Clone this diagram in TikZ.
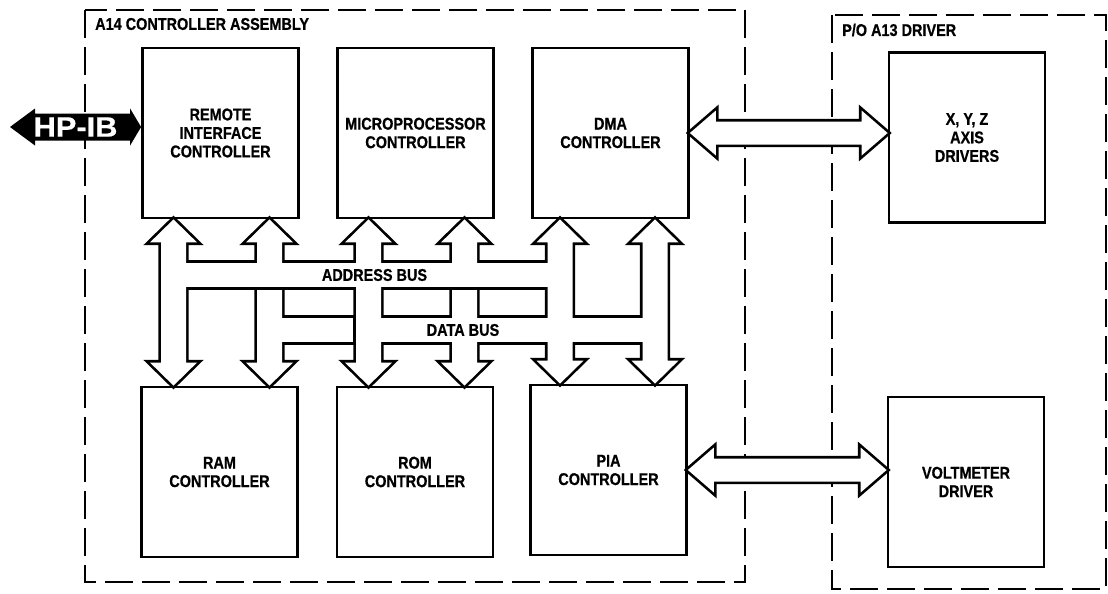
\documentclass[tikz,border=0pt]{standalone}
\usepackage{fontspec}
\newfontfamily\drawfont[FakeStretch=0.85, FakeBold=0.6]{Liberation Sans}
\newfontfamily\hpibfont[FakeStretch=1.1, FakeBold=0.6]{Liberation Sans}
\usetikzlibrary{calc}
\tikzset{
  box/.style={draw, line width=2.8pt, fill=white, minimum width=156pt, minimum height=170pt, align=center, inner sep=0pt, font=\drawfont\bfseries\fontsize{17}{18.5}\selectfont},
  tag/.style={inner sep=0pt, font=\drawfont\bfseries\fontsize{17}{18.5}\selectfont},
  fence/.style={draw, line width=2.6pt, dash pattern=on 28pt off 9pt},
  rim/.style={draw, line width=5.4pt, line join=miter},
  hole/.style={fill=white},
  seal/.style={draw, line width=2.7pt}
}
% hollow double arrows: #1 first tip, #2 second tip, #3 style
\newcommand{\vbus}[3]{\path[#3] let \p1=(#1), \p2=(#2) in (\x1,\y1) -- (\x1+23.5pt,\y1-23pt) -- (\x1+12.5pt,\y1-23pt) -- (\x1+12.5pt,\y2+23pt) -- (\x1+23.5pt,\y2+23pt) -- (\x1,\y2) -- (\x1-23.5pt,\y2+23pt) -- (\x1-12.5pt,\y2+23pt) -- (\x1-12.5pt,\y1-23pt) -- (\x1-23.5pt,\y1-23pt) -- cycle;}
\newcommand{\hbus}[3]{\path[#3] let \p1=(#1), \p2=(#2) in (\x1,\y1) -- (\x1+26pt,\y1+22.5pt) -- (\x1+26pt,\y1+11.5pt) -- (\x2-26pt,\y1+11.5pt) -- (\x2-26pt,\y1+22.5pt) -- (\x2,\y1) -- (\x2-26pt,\y1-22.5pt) -- (\x2-26pt,\y1-11.5pt) -- (\x1+26pt,\y1-11.5pt) -- (\x1+26pt,\y1-22.5pt) -- cycle;}

\begin{document}
\begin{tikzpicture}[x=1pt, y=-1pt]
		\useasboundingbox (0,0) rectangle (1108,594);
		% assembly outlines
		\draw[fence] (85,10) rectangle (745,582);
		\draw[fence] (832,15) rectangle (1106,589);
		\node[tag, anchor=west] (asm) at (95,24) {A14 CONTROLLER ASSEMBLY};
		\node[tag, anchor=west] (drv) at (842,30) {P/O A13 DRIVER};
		% boxes
		\node[box] (remote) at (220.5,133) {REMOTE\\INTERFACE\\CONTROLLER};
		\node[box] (micro) at (415.5,133) {MICROPROCESSOR\\CONTROLLER};
		\node[box] (dma) at (610.5,133) {DMA\\CONTROLLER};
		\node[box] (ram) at (219.5,472) {RAM\\CONTROLLER};
		\node[box] (rom) at (415,472) {ROM\\CONTROLLER};
		\node[box] (pia) at (608.5,470) {PIA\\CONTROLLER};
		\node[box] (xyz) at (967,137.5) {X, Y, Z\\AXIS\\DRIVERS};
		\node[box] (volt) at (966,482) {VOLTMETER\\DRIVER};
		\coordinate (addr) at (374.5,275);
		\coordinate (data) at (463,330);
		\coordinate (a1t) at ($(remote.south)+(-47,0)$);
		\coordinate (a2t) at ($(remote.south)+(49,0)$);
		\coordinate (a3t) at ($(micro.south)+(-47,0)$);
		\coordinate (a4t) at ($(micro.south)+(49,0)$);
		\coordinate (a5t) at ($(dma.south)+(-50.5,0)$);
		\coordinate (a6t) at ($(dma.south)+(44.5,0)$);
		\coordinate (hpib) at (10,127);
		% buses: outline pass, then hollow pass
		\foreach \r in {rim, hole} {
			\vbus{a1t}{a1t |- ram.north}{\r}
			\vbus{a2t}{a2t |- ram.north}{\r}
			\vbus{a3t}{a3t |- rom.north}{\r}
			\vbus{a4t}{a4t |- rom.north}{\r}
			\vbus{a5t}{a5t |- pia.north}{\r}
			\vbus{a6t}{a6t |- pia.north}{\r}
			\path[\r] ($(a1t |- addr)+(0,-12)$) rectangle ($(a5t |- addr)+(0,12)$);
			\path[\r] ($(a2t |- data)+(0,-12)$) rectangle ($(a6t |- data)+(0,12)$);
			\hbus{dma.east}{dma.east -| xyz.west}{\r}
			\hbus{pia.east}{pia.east -| volt.west}{\r}
		}
		\draw[seal] ($(a2t |- addr)+(-15.2,13.35)$) -- ($(a2t |- addr)+(15.2,13.35)$);
		\draw[seal] ($(a4t |- addr)+(-15.2,13.35)$) -- ($(a4t |- addr)+(15.2,13.35)$);
		\draw[seal] ($(a3t |- data)+(-13.85,-14.7)$) -- ($(a3t |- data)+(-13.85,14.7)$);
		\node[tag] (addrlab) at (addr) {ADDRESS BUS};
		\node[tag] (datalab) at (data) {DATA BUS};
		% HP-IB port
		\fill let \p1=(hpib), \p2=(remote.west |- hpib) in (\x1,\y1) -- (\x1+25pt,\y1+18.5pt) -- (\x1+25pt,\y1+13.5pt) -- (\x2-11pt,\y1+13.5pt) -- (\x2-11pt,\y1+18.5pt) -- (\x2,\y1) -- (\x2-11pt,\y1-18.5pt) -- (\x2-11pt,\y1-13.5pt) -- (\x1+25pt,\y1-13.5pt) -- (\x1+25pt,\y1-18.5pt) -- cycle;
		\node[inner sep=0pt, text=white, font=\hpibfont\bfseries\fontsize{28}{28}\selectfont] (hpiblab) at ($(hpib)!0.5!(remote.west |- hpib)$) {HP-IB};
	\end{tikzpicture}
\end{document}
